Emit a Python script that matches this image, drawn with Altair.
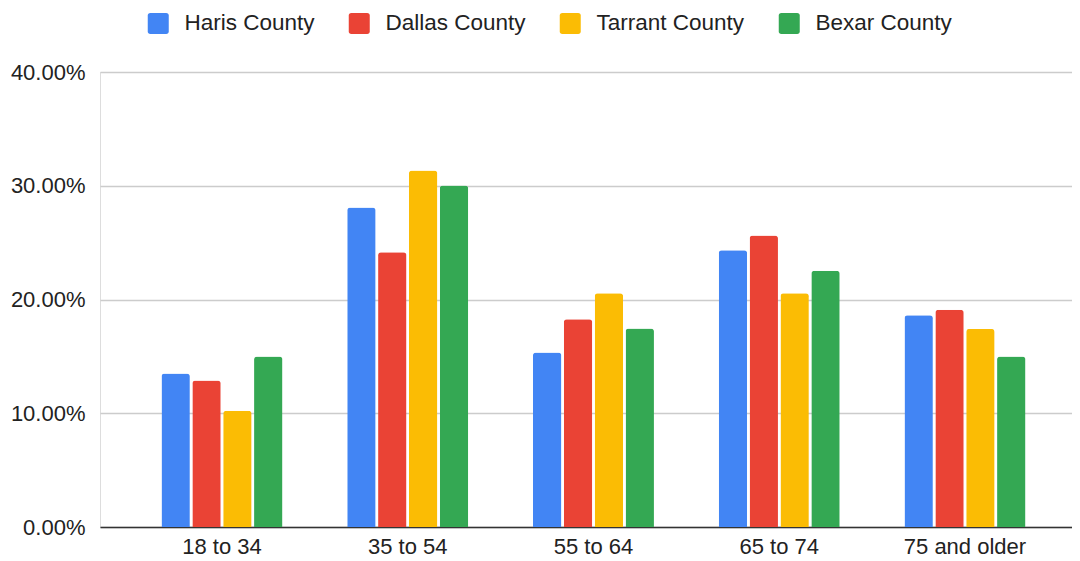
import altair as alt
import pandas as pd

age_groups = ["18 to 34", "35 to 54", "55 to 64", "65 to 74", "75 and older"]
counties = ["Haris County", "Dallas County", "Tarrant County", "Bexar County"]
haris = [0.135, 0.2808, 0.1533, 0.2434, 0.1862]
dallas = [0.1287, 0.2416, 0.1827, 0.2562, 0.1909]
tarrant = [0.1023, 0.3134, 0.2055, 0.2055, 0.1741]
bexar = [0.1498, 0.3002, 0.1744, 0.2252, 0.1498]
colors = ["#4285F4", "#EA4335", "#FBBC04", "#34A853"]

rows = []
for name, vals in zip(counties, [haris, dallas, tarrant, bexar]):
    for g, v in zip(age_groups, vals):
        rows.append({"age": g, "county": name, "value": v})
df = pd.DataFrame(rows)

rounded_square = ("M-1,-0.75 Q-1,-1 -0.75,-1 L0.75,-1 Q1,-1 1,-0.75 L1,0.75 "
                  "Q1,1 0.75,1 L-0.75,1 Q-1,1 -1,0.75 Z")

FONT = "Liberation Sans"

chart = alt.Chart(df).mark_bar(
    cornerRadiusTopLeft=3, cornerRadiusTopRight=3
).encode(
    x=alt.X("age:N", sort=age_groups, title=None,
            scale=alt.Scale(paddingInner=0.3486, paddingOuter=0.2907, align=0.569),
            axis=alt.Axis(labelAngle=0, labelFontSize=22, labelColor="#222222",
                          labelFont=FONT, ticks=False, grid=False,
                          domainColor="#333333", domainWidth=1.5, labelPadding=9)),
    xOffset=alt.XOffset("county:N", sort=counties,
                        scale=alt.Scale(paddingInner=0.08, paddingOuter=0)),
    y=alt.Y("value:Q", title=None,
            scale=alt.Scale(domain=[0, 0.4]),
            axis=alt.Axis(format=".2%", values=[0, 0.1, 0.2, 0.3, 0.4],
                          labelFontSize=22, labelColor="#222222",
                          labelFont=FONT, ticks=False, domain=False,
                          gridColor="#cccccc", gridWidth=1.3, labelPadding=15)),
    color=alt.Color("county:N", sort=counties,
                    scale=alt.Scale(domain=counties, range=colors),
                    legend=alt.Legend(title=None, orient="none", direction="horizontal",
                                      legendX=47, legendY=-60,
                                      labelFontSize=22.5, labelFont=FONT,
                                      labelColor="#222222", symbolType=rounded_square,
                                      symbolSize=441, symbolStrokeWidth=0,
                                      symbolOpacity=1,
                                      columnPadding=33, labelOffset=15)),
).properties(
    width=972, height=455,
    autosize=alt.AutoSizeParams(type="none"),
    padding={"left": 92, "top": 64, "right": 0, "bottom": 34},
).configure_view(strokeWidth=0).configure(background="white")

chart.save("out.html", embed_options={"renderer": "svg", "actions": False})
